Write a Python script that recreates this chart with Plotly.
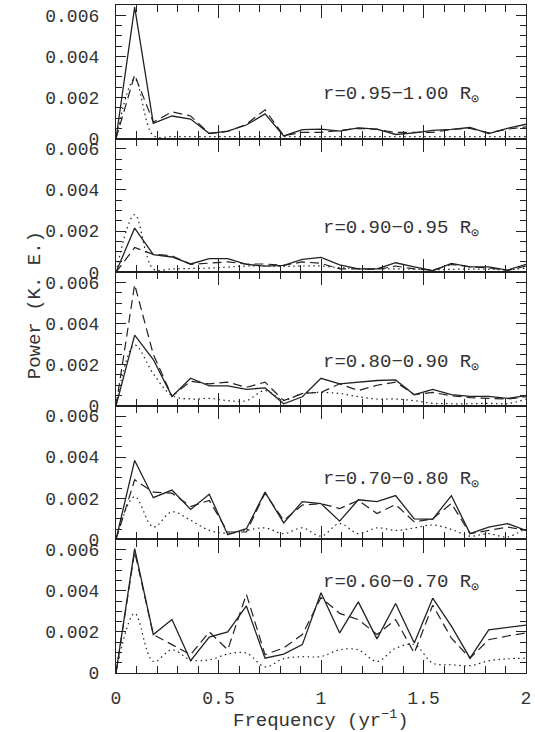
import plotly.graph_objects as go
from plotly.subplots import make_subplots

freq = [0.0, 0.091, 0.182, 0.273, 0.364, 0.455, 0.545, 0.636, 0.727, 0.818, 0.909,
        1.0, 1.091, 1.182, 1.273, 1.364, 1.455, 1.545, 1.636, 1.727, 1.818, 1.909, 2.0]

panel_labels = ["r=0.95\u22121.00 R<sub>\u2299</sub>", "r=0.90\u22120.95 R<sub>\u2299</sub>",
                "r=0.80\u22120.90 R<sub>\u2299</sub>", "r=0.70\u22120.80 R<sub>\u2299</sub>",
                "r=0.60\u22120.70 R<sub>\u2299</sub>"]
label_y = [0.0021, 0.0021, 0.0021, 0.0029, 0.0044]

solid = [
    [0, 0.0064, 0.00074, 0.0011, 0.00095, 0.00025, 0.00036, 0.00066, 0.0012, 0.00013, 0.00044, 0.00046,
     0.00036, 0.00052, 0.00046, 0.0002, 0.00028, 0.0004, 0.00045, 0.00054, 0.00024, 0.0005, 0.0007],
    [0, 0.00215, 0.00085, 0.00074, 0.0004, 0.00066, 0.00066, 0.00038, 0.0003, 0.00033, 0.00062, 0.00072,
     0.00036, 0.00016, 0.00016, 0.00046, 0.00026, 0.00007, 0.00043, 0.00026, 0.00026, 0.0001, 0.00038],
    [0, 0.00344, 0.00225, 0.00046, 0.00134, 0.00097, 0.00097, 0.0008, 0.00087, 0.0001, 0.00044, 0.00134,
     0.00107, 0.00115, 0.00123, 0.00126, 0.00054, 0.0008, 0.00054, 0.00046, 0.00046, 0.00036, 0.0005],
    [0, 0.00384, 0.00203, 0.0024, 0.00146, 0.0022, 0.00023, 0.00052, 0.0023, 0.0008, 0.00184, 0.00174,
     0.00089, 0.00193, 0.00184, 0.00213, 0.001, 0.00098, 0.00213, 0.00028, 0.0006, 0.00077, 0.00044],
    [0, 0.00605, 0.00187, 0.0026, 0.0006, 0.00175, 0.002, 0.00326, 0.00072, 0.00092, 0.00138, 0.0039,
     0.00195, 0.00346, 0.00166, 0.00338, 0.00146, 0.00364, 0.00228, 0.00072, 0.0021, 0.0022, 0.00233],
]

dashed = [
    [0, 0.0031, 0.0008, 0.0013, 0.0011, 0.00025, 0.00035, 0.0007, 0.0014, 0.00015, 0.0003, 0.0003,
     0.0004, 0.0005, 0.00045, 0.0003, 0.0003, 0.0003, 0.00045, 0.0005, 0.00028, 0.00046, 0.00057],
    [0, 0.0012, 0.00087, 0.0008, 0.00038, 0.00043, 0.0005, 0.0004, 0.0004, 0.00033, 0.0005, 0.00043,
     0.00016, 0.00016, 0.00013, 0.0003, 0.00016, 0.0001, 0.00038, 0.00026, 0.00021, 0.00008, 0.0003],
    [0, 0.0059, 0.0025, 0.00046, 0.0012, 0.00107, 0.00115, 0.0009, 0.00115, 0.00025, 0.0006, 0.00065,
     0.00107, 0.00074, 0.001, 0.00115, 0.00054, 0.00065, 0.00049, 0.0004, 0.00036, 0.00033, 0.00044],
    [0, 0.0029, 0.0023, 0.00225, 0.0016, 0.0019, 0.00036, 0.00036, 0.00225, 0.00093, 0.00167, 0.00174,
     0.0015, 0.0019, 0.00126, 0.0017, 0.00085, 0.001, 0.00175, 0.00028, 0.00044, 0.0006, 0.00044],
    [0, 0.0059, 0.00187, 0.00138, 0.00089, 0.002, 0.00113, 0.00383, 0.00089, 0.00122, 0.00187, 0.00367,
     0.0029, 0.0026, 0.00187, 0.0026, 0.00097, 0.0033, 0.0017, 0.00072, 0.00162, 0.0018, 0.00195],
]

dotted = [
    [0, 0.0029, 0.00015, 0.0001, 0.0001, 0.0001, 0.0001, 0.0001, 0.0001, 0.0001, 0.0001, 0.0001,
     0.0001, 0.0001, 0.0001, 0.0001, 0.0001, 0.0001, 0.0001, 0.0001, 0.0001, 0.0001, 0.0001],
    [0, 0.0028, 0.00016, 0.00016, 0.00018, 0.0002, 0.00025, 0.0003, 0.0003, 0.00028, 0.0003, 0.0003,
     0.00022, 0.00018, 0.00016, 0.00016, 0.00015, 0.00012, 0.00014, 0.00015, 0.00015, 0.00012, 0.0002],
    [0, 0.00295, 0.00156, 0.0005, 0.00033, 0.00036, 0.00025, 0.00025, 0.00074, 0.00028, 0.0006, 0.00065,
     0.0006, 0.00044, 0.00033, 0.00033, 0.00025, 0.00012, 0.0001, 0.0001, 0.00012, 0.0001, 0.00033],
    [0, 0.00208, 0.0006, 0.00134, 0.00093, 0.00044, 0.0003, 0.00044, 0.00056, 0.00028, 0.00056, 0.00016,
     0.00077, 0.00028, 0.00056, 0.00044, 0.00056, 0.0007, 0.00049, 0.00016, 0.00028, 0.00012, 0.00056],
    [0, 0.0029, 0.00056, 0.00113, 0.00064, 0.00064, 0.00092, 0.00097, 0.0003, 0.0007, 0.00079, 0.0008,
     0.00113, 0.00113, 0.00056, 0.0012, 0.00138, 0.00048, 0.0004, 0.00036, 0.00059, 0.00069, 0.00072],
]

x_ticks = [0, 0.5, 1, 1.5, 2]
x_tick_text = ["0", "0.5", "1", "1.5", "2"]
y_ticks = [0, 0.002, 0.004, 0.006]
y_tick_text = ["0", "0.002", "0.004", "0.006"]

ink = "#222222"
text_ink = "#333333"
font_family = "Liberation Mono, DejaVu Sans Mono, monospace"

fig = make_subplots(rows=5, cols=1, shared_xaxes=True, vertical_spacing=0)

for i in range(5):
    r = i + 1
    fig.add_trace(go.Scatter(x=freq, y=solid[i], mode="lines",
                             line=dict(color=ink, width=1.3), showlegend=False), row=r, col=1)
    fig.add_trace(go.Scatter(x=freq, y=dashed[i], mode="lines",
                             line=dict(color=ink, width=1.2, dash="9px,5px"), showlegend=False), row=r, col=1)
    fig.add_trace(go.Scatter(x=freq, y=dotted[i], mode="lines", line_shape="spline",
                             line=dict(color=ink, width=1.2, dash="1.5px,3.5px"), showlegend=False), row=r, col=1)
    fig.update_yaxes(range=[0, 0.0065], tickvals=y_ticks, ticktext=y_tick_text,
                     ticks="inside", ticklen=10, tickwidth=1, tickcolor=ink,
                     minor=dict(dtick=0.0005, ticks="inside", ticklen=6, tickcolor=ink, tickwidth=1),
                     showline=True, linecolor=ink, linewidth=1.3, mirror="ticks",
                     showgrid=False, zeroline=False, ticklabelstandoff=12,
                     tickfont=dict(family=font_family, size=18, color=text_ink), row=r, col=1)
    fig.update_xaxes(range=[0, 2], tickvals=x_ticks, ticktext=x_tick_text,
                     ticks="inside", ticklen=13, tickwidth=1, tickcolor=ink,
                     minor=dict(dtick=0.1, tick0=0, ticks="inside", ticklen=7, tickcolor=ink, tickwidth=1),
                     showline=True, linecolor=ink, linewidth=1.3, mirror="ticks",
                     showgrid=False, zeroline=False, ticklabelstandoff=8,
                     showticklabels=(r == 5),
                     tickfont=dict(family=font_family, size=18, color=text_ink), row=r, col=1)
    yref = "y" if r == 1 else f"y{r}"
    xref = "x" if r == 1 else f"x{r}"
    fig.add_annotation(x=1.0, y=label_y[i], xref=xref, yref=yref, text=panel_labels[i],
                       showarrow=False, xanchor="left", yanchor="middle",
                       font=dict(family=font_family, size=19, color=text_ink))

fig.add_annotation(x=(21 - 116) / 413, y=(673 - 305) / 669, xref="paper", yref="paper",
                   text="Power (K. E.)", showarrow=False, textangle=-90,
                   font=dict(family=font_family, size=19, color=text_ink))
fig.add_annotation(x=0.5, y=-(720 - 673) / 669, xref="paper", yref="paper",
                   text="Frequency (yr<sup>\u22121</sup>)",
                   showarrow=False, yanchor="middle", font=dict(family=font_family, size=19, color=text_ink))

fig.update_layout(width=535, height=732, margin=dict(l=116, r=6, t=4, b=59),
                  plot_bgcolor="white", paper_bgcolor="white")

fig.write_html("out.html", config={"displayModeBar": False},
               post_script="document.body.style.margin='0px';document.body.style.overflow='hidden';")
